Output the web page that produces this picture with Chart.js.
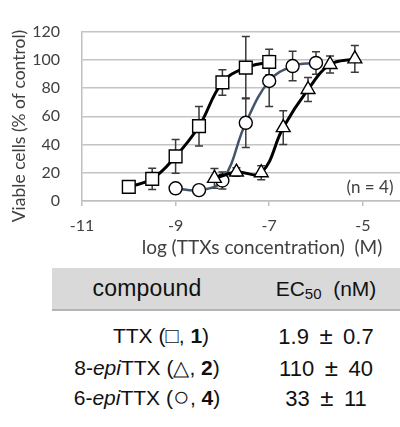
<!DOCTYPE html>
<html>
<head>
<meta charset="utf-8">
<script src="https://cdn.jsdelivr.net/npm/chart.js@4.4.1/dist/chart.umd.min.js"></script>
<style>
  body { margin: 0; background: #fff; overflow: hidden; width: 400px; height: 427px; position: relative; }
  #wrap { position: absolute; left: 0; top: 0; width: 420px; height: 261px; }
  .tbl { position: absolute; font-family: "Liberation Sans", Arial, sans-serif; font-size: 21px; color: #111; }
  .cell { position: absolute; text-align: center; white-space: nowrap; }
  #head { left: 52px; top: 268px; width: 348px; height: 41px; background: #D9D9D9; border-bottom: 2px solid #B4B4B4; }
  #head .cell { line-height: 41px; }
  #head .c1 { font-size: 23px; letter-spacing: 0.2px; }
  .row { left: 52px; width: 348px; height: 31px; }
  .row .cell { line-height: 31px; }
  .c1 { left: 0; width: 190px; }
  .c2 { left: 198px; width: 152px; }
  .row .c2 { font-size: 22px; }
  .pm { display: inline-block; width: 18px; margin: 0 2px; text-align: center; font-size: 24px; }
  .sym { font-size: 22px; line-height: 0; }
  .circ { font-size: 28px; line-height: 0; vertical-align: -1px; }
  sub { font-size: 15px; vertical-align: -3px; line-height: 0; }
</style>
</head>
<body>
<div id="wrap"><canvas id="chart"></canvas></div>

<div id="head" class="tbl">
  <div class="cell c1">compound</div>
  <div class="cell c2">EC<sub>50</sub>&nbsp; (nM)</div>
</div>
<div class="tbl row" style="top:320px">
  <div class="cell c1" style="left:14px">TTX (<span class="sym">□</span>, <b>1</b>)</div>
  <div class="cell c2">1.9 <span class="pm">±</span> 0.7</div>
</div>
<div class="tbl row" style="top:352px">
  <div class="cell c1">8-<i>epi</i>TTX (△, <b>2</b>)</div>
  <div class="cell c2">110 <span class="pm">±</span> 40</div>
</div>
<div class="tbl row" style="top:382px">
  <div class="cell c1">6-<i>epi</i>TTX (<span class="circ">○</span>, <b>4</b>)</div>
  <div class="cell c2">33 <span class="pm">±</span> 11</div>
</div>

<script>
// TTX (squares)
var sqX = [-10, -9.5, -9, -8.5, -8, -7.5, -7];
var sqY = [10, 15.7, 31.6, 53, 84, 94.5, 98.5];
var sqErr = [2, 7.5, 12, 14, 9, 22, 9];

// 8-epiTTX (triangles)
var triX = [-8.17, -7.7, -7.17, -6.7, -6.17, -5.7, -5.17];
var triY = [16, 20.5, 20, 52, 79, 96.7, 100.7];
var triErr = [7, 3, 5, 12, 8.5, 6, 9.5];

// 6-epiTTX (circles)
var cirX = [-9, -8.5, -8, -7.5, -7, -6.5, -6];
var cirY = [9, 7.7, 14.5, 55.4, 85, 95.6, 97.8];
var cirErr = [3, 1, 6, 17.5, 18, 10.5, 8];

var xTicks = [-11, -9, -7, -5];
var yTicks = [0, 20, 40, 60, 80, 100, 120];

function pts(xs, ys, es) {
  return xs.map(function(x, i) { return { x: x, y: ys[i], err: es[i] }; });
}

var errorBars = {
  id: 'errorBars',
  beforeDatasetsDraw: function(chart) {
    var ctx = chart.ctx, xs = chart.scales.x, ys = chart.scales.y;
    ctx.save();
    ctx.strokeStyle = '#3a3a3a';
    ctx.lineWidth = 1.5;
    chart.data.datasets.forEach(function(ds) {
      ds.data.forEach(function(p) {
        var px = xs.getPixelForValue(p.x);
        var top = ys.getPixelForValue(p.y + p.err);
        var bot = ys.getPixelForValue(p.y - p.err);
        ctx.beginPath();
        ctx.moveTo(px, top); ctx.lineTo(px, bot);
        ctx.moveTo(px - 4, top); ctx.lineTo(px + 4, top);
        ctx.moveTo(px - 4, bot); ctx.lineTo(px + 4, bot);
        ctx.stroke();
      });
    });
    ctx.restore();
  }
};

var labels = {
  id: 'labels',
  afterDraw: function(chart) {
    var ctx = chart.ctx;
    ctx.save();
    ctx.fillStyle = '#404040';
    ctx.textAlign = 'center';
    ctx.textBaseline = 'middle';
    ctx.font = '19px Lato';
    ctx.fillText('log (TTXs concentration)  (M)', 262, 248);
    ctx.font = '17px Lato';
    ctx.fillText('(n = 4)', 370, 188);
    ctx.font = '17.5px Lato';
    ctx.translate(19, 126);
    ctx.rotate(-Math.PI / 2);
    ctx.fillText('Viable cells (% of control)', 0, 0);
    ctx.restore();
  }
};

var ctx = document.getElementById('chart').getContext('2d');
var chart = new Chart(ctx, {
  type: 'scatter',
  data: {
    datasets: [{
      data: pts(sqX, sqY, sqErr),
      showLine: true,
      tension: 0.4,
      borderColor: '#000',
      borderWidth: 3,
      pointStyle: 'rect',
      pointRadius: 9,
      pointBackgroundColor: '#fff',
      pointBorderColor: '#000',
      pointBorderWidth: 1.4
    }, {
      data: pts(triX, triY, triErr),
      showLine: true,
      tension: 0.4,
      borderColor: '#000',
      borderWidth: 3,
      pointStyle: 'triangle',
      pointRadius: 8,
      pointBackgroundColor: '#fff',
      pointBorderColor: '#000',
      pointBorderWidth: 1.4
    }, {
      data: pts(cirX, cirY, cirErr),
      showLine: true,
      tension: 0.4,
      borderColor: '#43546B',
      borderWidth: 2.5,
      pointStyle: 'circle',
      pointRadius: 6.5,
      pointBackgroundColor: '#fff',
      pointBorderColor: '#000',
      pointBorderWidth: 1.4
    }]
  },
  options: {
    responsive: true,
    maintainAspectRatio: false,
    animation: false,
    layout: { padding: { left: 0, top: 19, right: 8, bottom: 0 } },
    plugins: { legend: { display: false }, tooltip: { enabled: false } },
    scales: {
      x: {
        type: 'linear',
        min: -11,
        max: -4,
        afterBuildTicks: function(s) { s.ticks = xTicks.map(function(v) { return { value: v }; }); },
        afterFit: function(s) { s.height = 60; },
        grid: { drawOnChartArea: false, drawTicks: true, tickLength: 5, color: '#BFBFBF', lineWidth: 1.5 },
        border: { color: '#BFBFBF', width: 1.5 },
        ticks: { color: '#404040', font: { family: 'Lato', size: 16 }, padding: 10 }
      },
      y: {
        min: 0,
        max: 120,
        afterBuildTicks: function(s) { s.ticks = yTicks.map(function(v) { return { value: v }; }); },
        afterFit: function(s) { s.width = 82; },
        grid: { drawTicks: false, color: '#C4C4C4', lineWidth: 1.5 },
        border: { color: '#BFBFBF', width: 1.5 },
        ticks: { color: '#404040', font: { family: 'Lato', size: 16 }, padding: 22 }
      }
    }
  },
  plugins: [errorBars, labels]
});
</script>
</body>
</html>
